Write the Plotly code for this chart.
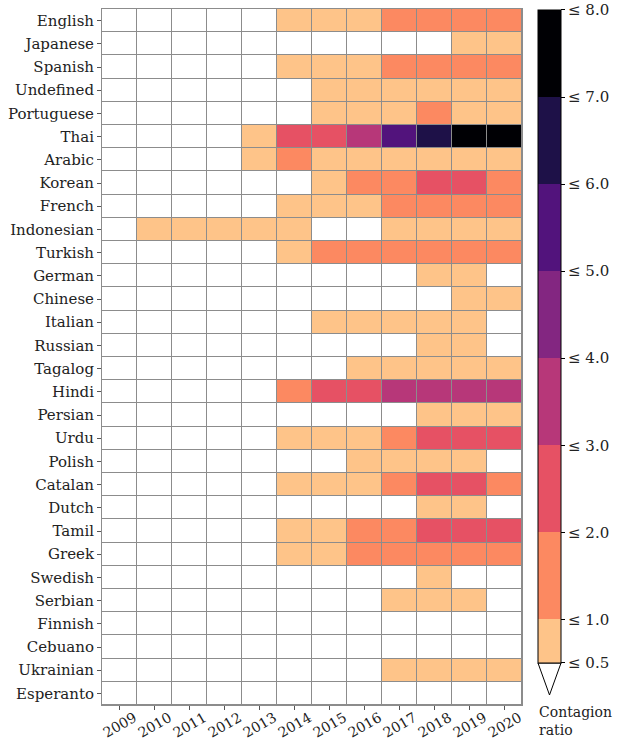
import plotly.graph_objects as go

# Languages (top to bottom) and years
languages = ["English", "Japanese", "Spanish", "Undefined", "Portuguese", "Thai",
             "Arabic", "Korean", "French", "Indonesian", "Turkish", "German",
             "Chinese", "Italian", "Russian", "Tagalog", "Hindi", "Persian", "Urdu",
             "Polish", "Catalan", "Dutch", "Tamil", "Greek", "Swedish", "Serbian",
             "Finnish", "Cebuano", "Ukrainian", "Esperanto"]
years = ["2009", "2010", "2011", "2012", "2013", "2014",
         "2015", "2016", "2017", "2018", "2019", "2020"]

# Contagion ratio per language and year
english = [0, 0, 0, 0, 0, 0.8, 0.9, 0.9, 1.3, 1.4, 1.5, 1.4]
japanese = [0, 0, 0, 0, 0, 0, 0, 0, 0, 0, 0.7, 0.8]
spanish = [0, 0, 0, 0, 0, 0.8, 0.9, 0.9, 1.2, 1.3, 1.4, 1.3]
undefined = [0, 0, 0, 0, 0, 0, 0.7, 0.8, 0.8, 0.9, 0.9, 0.9]
portuguese = [0, 0, 0, 0, 0, 0, 0.7, 0.8, 0.9, 1.1, 0.9, 0.9]
thai = [0, 0, 0, 0, 0.8, 2.3, 2.5, 3.4, 5.6, 6.5, 7.5, 7.8]
arabic = [0, 0, 0, 0, 0.9, 1.2, 0.9, 0.9, 0.8, 0.8, 0.8, 0.8]
korean = [0, 0, 0, 0, 0, 0, 0.8, 1.2, 1.4, 2.2, 2.3, 1.6]
french = [0, 0, 0, 0, 0, 0.7, 0.8, 0.9, 1.2, 1.3, 1.3, 1.2]
indonesian = [0, 0.7, 0.8, 0.8, 0.8, 0.7, 0, 0, 0.7, 0.8, 0.8, 0.8]
turkish = [0, 0, 0, 0, 0, 0.8, 1.2, 1.3, 1.4, 1.4, 1.3, 1.3]
german = [0, 0, 0, 0, 0, 0, 0, 0, 0, 0.6, 0.7, 0]
chinese = [0, 0, 0, 0, 0, 0, 0, 0, 0, 0, 0.6, 0.7]
italian = [0, 0, 0, 0, 0, 0, 0.6, 0.7, 0.7, 0.8, 0.7, 0]
russian = [0, 0, 0, 0, 0, 0, 0, 0, 0, 0.6, 0.7, 0]
tagalog = [0, 0, 0, 0, 0, 0, 0, 0.6, 0.7, 0.8, 0.8, 0.7]
hindi = [0, 0, 0, 0, 0, 1.4, 2.2, 2.4, 3.3, 3.5, 3.4, 3.3]
persian = [0, 0, 0, 0, 0, 0, 0, 0, 0, 0.6, 0.7, 0.7]
urdu = [0, 0, 0, 0, 0, 0.7, 0.8, 0.9, 1.6, 2.3, 2.4, 2.2]
polish = [0, 0, 0, 0, 0, 0, 0, 0.6, 0.7, 0.8, 0.7, 0]
catalan = [0, 0, 0, 0, 0, 0.7, 0.8, 0.9, 1.5, 2.2, 2.3, 1.7]
dutch = [0, 0, 0, 0, 0, 0, 0, 0, 0, 0.6, 0.7, 0]
tamil = [0, 0, 0, 0, 0, 0.7, 0.8, 1.2, 1.6, 2.4, 2.5, 2.3]
greek = [0, 0, 0, 0, 0, 0.8, 0.9, 1.3, 1.4, 1.5, 1.4, 1.3]
swedish = [0, 0, 0, 0, 0, 0, 0, 0, 0, 0.6, 0, 0]
serbian = [0, 0, 0, 0, 0, 0, 0, 0, 0.6, 0.7, 0.6, 0]
finnish = [0, 0, 0, 0, 0, 0, 0, 0, 0, 0, 0, 0]
cebuano = [0, 0, 0, 0, 0, 0, 0, 0, 0, 0, 0, 0]
ukrainian = [0, 0, 0, 0, 0, 0, 0, 0, 0.6, 0.7, 0.7, 0.7]
esperanto = [0, 0, 0, 0, 0, 0, 0, 0, 0, 0, 0, 0]

rows = [english, japanese, spanish, undefined, portuguese, thai, arabic, korean,
        french, indonesian, turkish, german, chinese, italian, russian, tagalog,
        hindi, persian, urdu, polish, catalan, dutch, tamil, greek, swedish,
        serbian, finnish, cebuano, ukrainian, esperanto]

# Colour bins (upper bounds) and colours
bounds = [0.5, 1.0, 2.0, 3.0, 4.0, 5.0, 6.0, 7.0, 8.0]
colors = ["#fec489", "#fc8961", "#e65164", "#b73779", "#832681",
          "#52137c", "#1e1148", "#000004"]
tick_text = ["\u2264 %.1f" % b for b in bounds]

zmin, zmax = bounds[0], bounds[-1]
colorscale = []
for i, c in enumerate(colors):
    t0 = (bounds[i] - zmin) / (zmax - zmin)
    t1 = (bounds[i + 1] - zmin) / (zmax - zmin)
    colorscale.append([t0, c])
    colorscale.append([t1, c])

# cells below the lowest bound stay white
z_col = [[v if v >= zmin else None for v in r] for r in rows]
z_base = [[1 for _ in r] for r in rows]

font = dict(family="DejaVu Serif", size=15, color="#222")
xfont = dict(family="DejaVu Serif", size=14, color="#222")

fig = go.Figure()
fig.add_trace(go.Heatmap(
    x=years, y=languages, z=z_base,
    colorscale=[[0, "white"], [1, "white"]],
    showscale=False, xgap=1, ygap=1, hoverinfo="skip"
))
fig.add_trace(go.Heatmap(
    x=years, y=languages, z=z_col,
    zmin=zmin, zmax=zmax, colorscale=colorscale,
    xgap=1, ygap=1,
    colorbar=dict(
        x=1.038, xanchor="left", xpad=0,
        y=0.9986, yanchor="top", ypad=0,
        len=0.938, lenmode="fraction",
        thickness=23, thicknessmode="pixels",
        outlinewidth=1, outlinecolor="black",
        tickmode="array", tickvals=bounds, ticktext=tick_text,
        ticks="outside", ticklen=4, tickcolor="black",
        tickfont=font,
    )
))

# year labels: rotated and centred under each tick (matplotlib style);
# on a category axis annotations take the category's serial number
for i, yr in enumerate(years):
    fig.add_annotation(x=i, y=-0.0287, xref="x", yref="paper",
                       xanchor="center", yanchor="middle", textangle=-30,
                       text=yr, showarrow=False, font=xfont)

# extension triangle below the colour bar (values under 0.5)
x0, x1 = 1.0381, 1.0929
y_top, y_tip = 0.0603, 0.0144
fig.add_shape(
    type="path", xref="paper", yref="paper",
    path=f"M {x0},{y_top} L {x1},{y_top} L {(x0 + x1) / 2},{y_tip} Z",
    fillcolor="white", line=dict(color="black", width=1)
)

# colour bar title
fig.add_annotation(x=1.036, y=-0.0505, xref="paper", yref="paper",
                   xanchor="left", yanchor="bottom", align="left",
                   text="Contagion<br>ratio", showarrow=False,
                   font=dict(family="DejaVu Serif", size=14, color="#222"))

fig.update_layout(
    width=618, height=741,
    margin=dict(l=102, r=96, t=9, b=36, autoexpand=False),
    paper_bgcolor="white", plot_bgcolor="#8c8c8c",
    font=font,
    xaxis=dict(type="category", range=[-0.5, len(years) - 0.5],
               showticklabels=False, ticks="outside", ticklen=4,
               tickcolor="#555", showgrid=False, zeroline=False, showline=True,
               mirror=True, linecolor="#8c8c8c", linewidth=1, automargin=False),
    yaxis=dict(type="category", autorange="reversed", ticks="outside", ticklen=4,
               tickcolor="#555", showgrid=False, zeroline=False, showline=True,
               mirror=True, linecolor="#8c8c8c", linewidth=1, tickfont=font,
               automargin=False),
)

# page body has a default margin; drop it so the figure sits at the window corner
fig.write_html("out.html", config={"displayModeBar": False},
               post_script="document.body.style.margin='0px';")
